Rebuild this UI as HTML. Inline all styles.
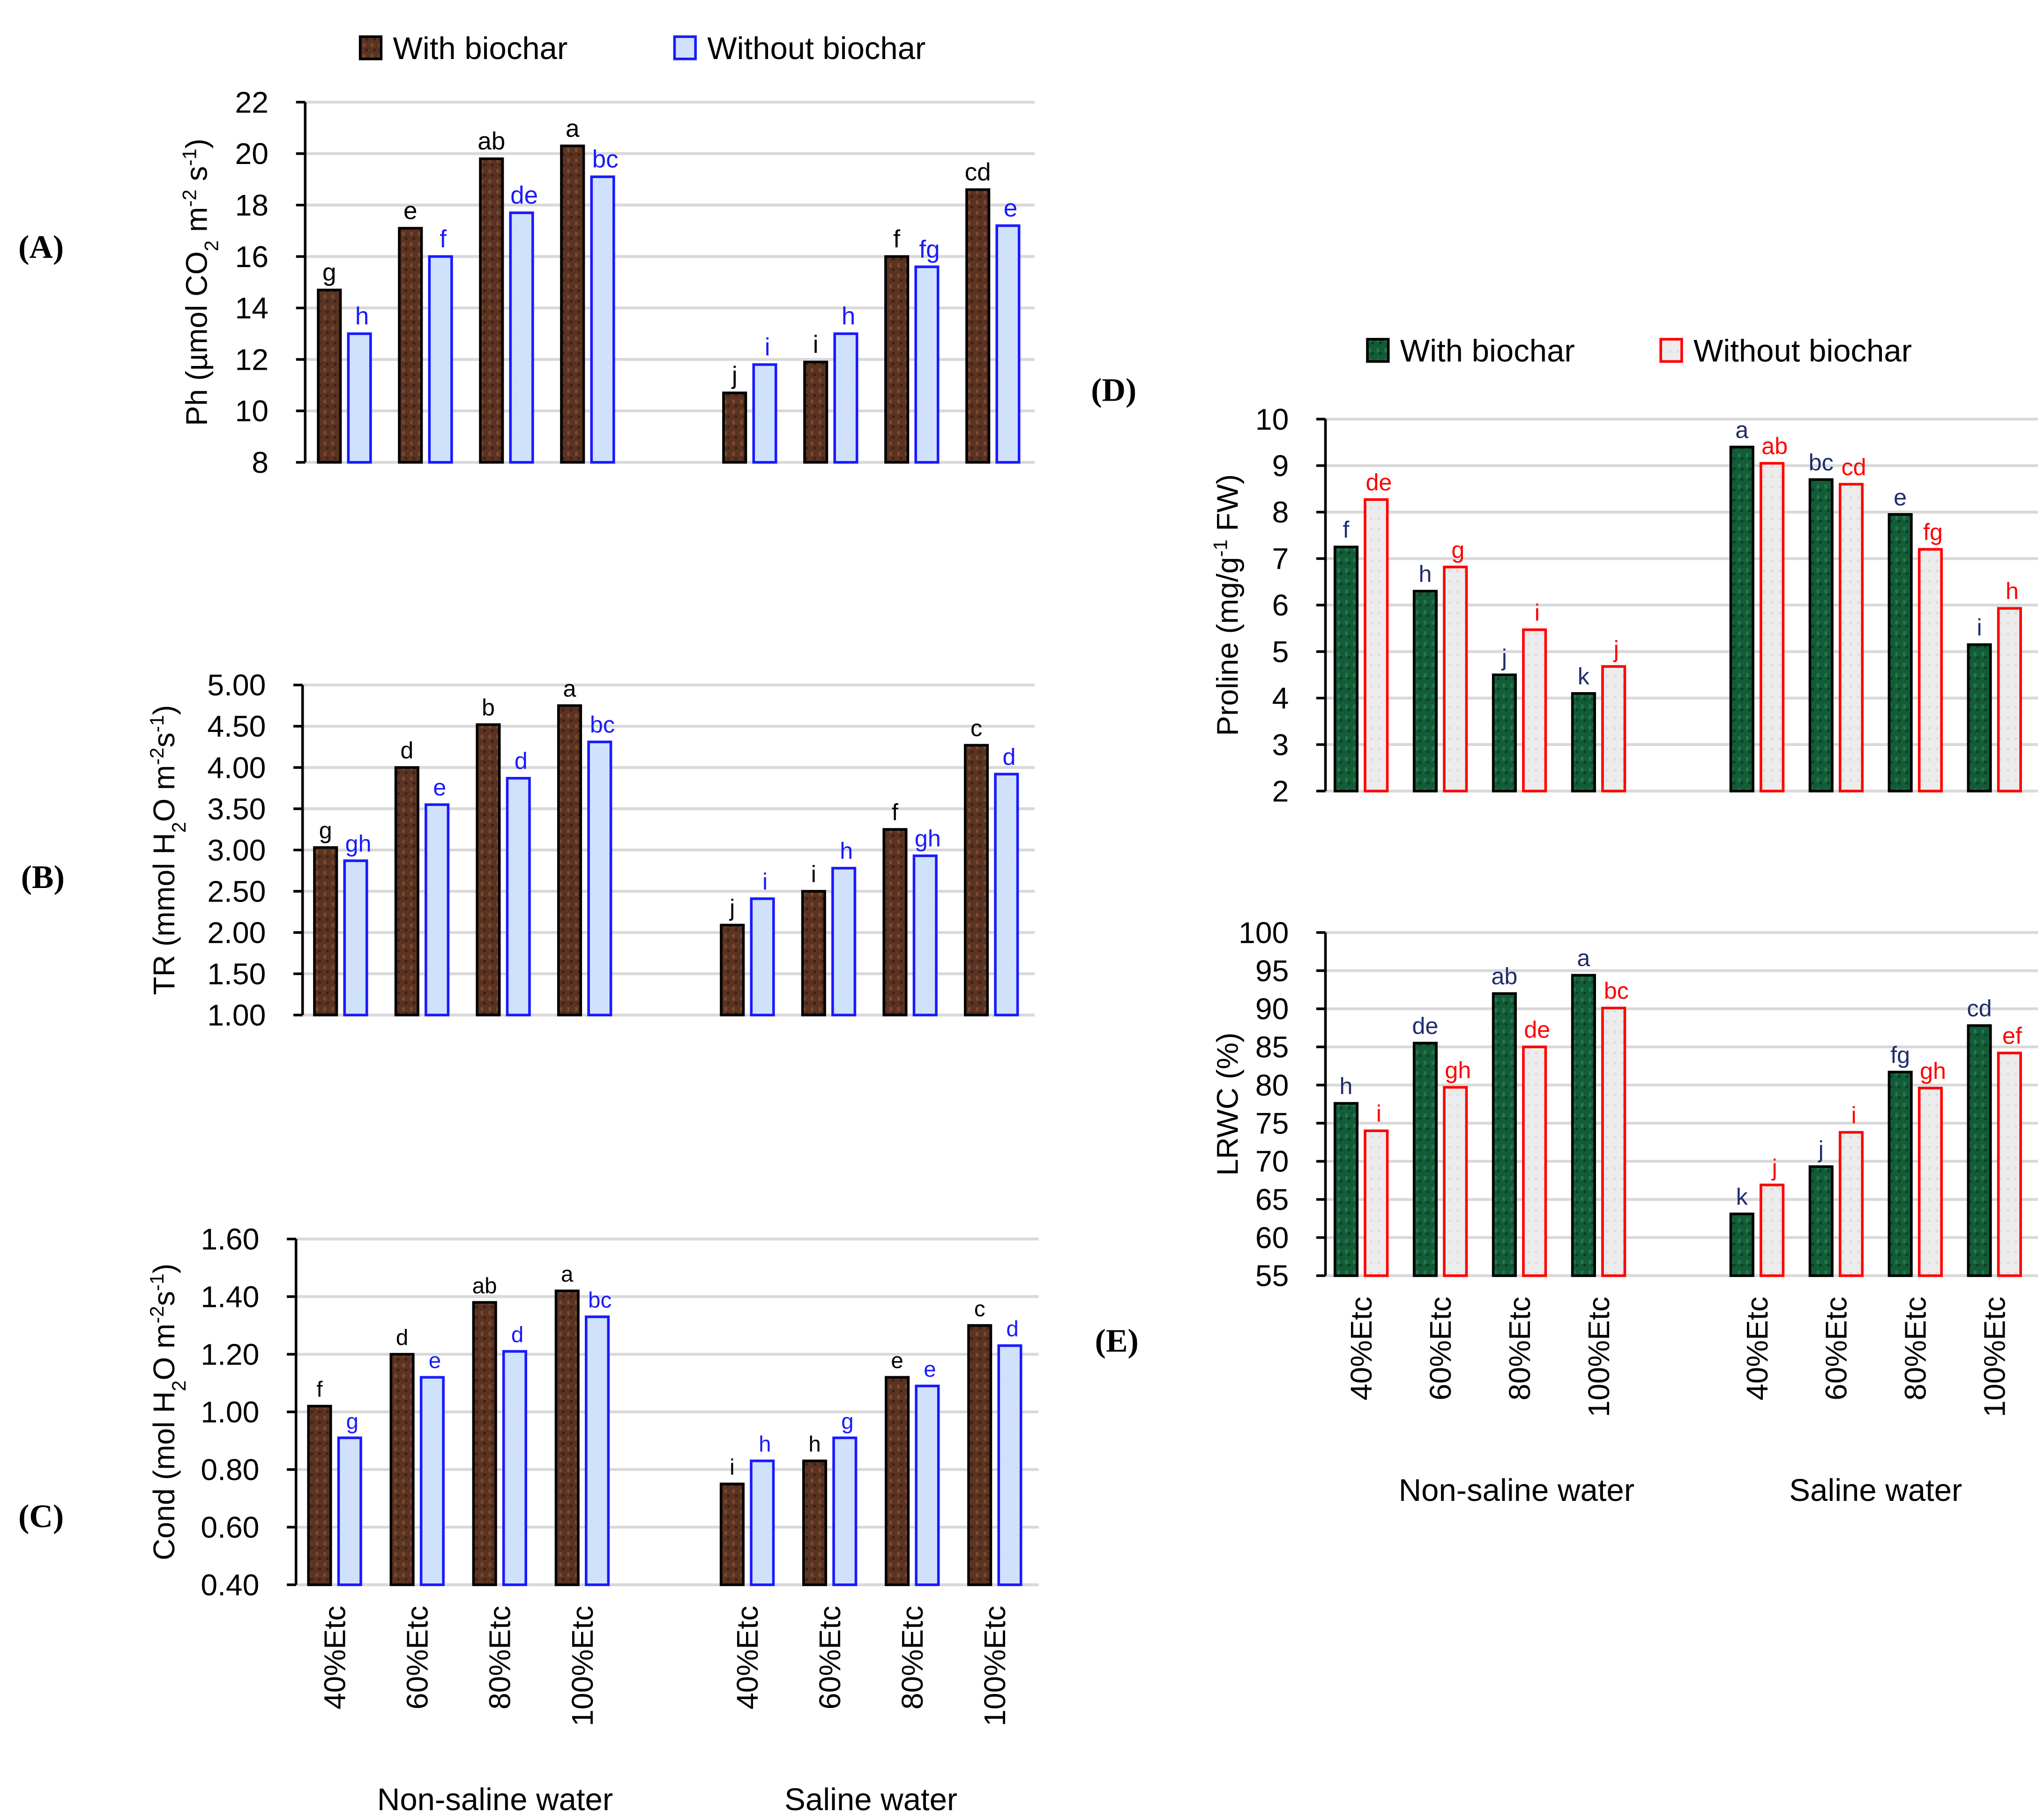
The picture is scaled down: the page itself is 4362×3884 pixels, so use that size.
<!DOCTYPE html>
<html><head><meta charset="utf-8">
<style>
html,body{margin:0;padding:0;background:#fff;}
svg{display:block;}
text{font-family:"Liberation Sans",sans-serif;}
.pl{font-family:"Liberation Serif",serif;font-weight:bold;font-size:25px;}
</style></head>
<body>
<svg id="fig" width="4362" height="3884" viewBox="0 0 1560.6 1389.6" xmlns="http://www.w3.org/2000/svg">
<defs>
<pattern id="brown" width="6" height="8" patternUnits="userSpaceOnUse"><rect width="6" height="8" fill="#5a3322"/><rect x="1" y="1" width="2" height="3" fill="#7a4a30"/><rect x="3" y="5" width="2" height="2" fill="#3e2114"/></pattern>
<pattern id="blue" width="6" height="8" patternUnits="userSpaceOnUse"><rect width="6" height="8" fill="#cfe2fb"/><rect x="2" y="3" width="2" height="2" fill="#dcd8fa"/></pattern>
<pattern id="green" width="6" height="8" patternUnits="userSpaceOnUse"><rect width="6" height="8" fill="#145c38"/><rect x="1" y="2" width="2" height="3" fill="#1f7a4c"/><rect x="3" y="5" width="2" height="2" fill="#0b3f24"/></pattern>
<pattern id="grey" width="6" height="8" patternUnits="userSpaceOnUse"><rect width="6" height="8" fill="#ececec"/><rect x="2" y="3" width="2" height="2" fill="#dedede"/></pattern>
</defs>
<g id="root"></g>
</svg>
<script>
// ---- data ----
const categories = ["40%Etc","60%Etc","80%Etc","100%Etc","40%Etc","60%Etc","80%Etc","100%Etc"];
const groupLabels = ["Non-saline water","Saline water"];
const aWith = [14.7,17.1,19.8,20.3,10.7,11.9,16.0,18.6];
const aWithout = [13.0,16.0,17.7,19.1,11.8,13.0,15.6,17.2];
const aLetWith = ["g","e","ab","a","j","i","f","cd"];
const aLetWithout = ["h","f","de","bc","i","h","fg","e"];
const aTicks = ["8","10","12","14","16","18","20","22"];
const bWith = [3.03,4.00,4.52,4.75,2.09,2.50,3.25,4.27];
const bWithout = [2.87,3.55,3.87,4.31,2.41,2.78,2.93,3.92];
const bLetWith = ["g","d","b","a","j","i","f","c"];
const bLetWithout = ["gh","e","d","bc","i","h","gh","d"];
const bTicks = ["1.00","1.50","2.00","2.50","3.00","3.50","4.00","4.50","5.00"];
const cWith = [1.02,1.20,1.38,1.42,0.75,0.83,1.12,1.30];
const cWithout = [0.91,1.12,1.21,1.33,0.83,0.91,1.09,1.23];
const cLetWith = ["f","d","ab","a","i","h","e","c"];
const cLetWithout = ["g","e","d","bc","h","g","e","d"];
const cTicks = ["0.40","0.60","0.80","1.00","1.20","1.40","1.60"];
const dWith = [7.25,6.3,4.5,4.1,9.4,8.7,7.95,5.15];
const dWithout = [8.27,6.82,5.47,4.68,9.05,8.6,7.2,5.93];
const dLetWith = ["f","h","j","k","a","bc","e","i"];
const dLetWithout = ["de","g","i","j","ab","cd","fg","h"];
const dTicks = ["2","3","4","5","6","7","8","9","10"];
const eWith = [77.6,85.5,92.0,94.4,63.1,69.3,81.7,87.8];
const eWithout = [74.0,79.7,85.0,90.1,66.9,73.8,79.6,84.2];
const eLetWith = ["h","de","ab","a","k","j","fg","cd"];
const eLetWithout = ["i","gh","de","bc","j","i","gh","ef"];
const eTicks = ["55","60","65","70","75","80","85","90","95","100"];

const NS="http://www.w3.org/2000/svg";
const root=document.getElementById('root');
function mk(tag,attrs,parent){const e=document.createElementNS(NS,tag);for(const k in attrs)e.setAttribute(k,attrs[k]);(parent||root).appendChild(e);return e;}

function panel(p){
  const g=mk('g',{});
  
  
  const vmin=parseFloat(p.ticks[0]), vmax=parseFloat(p.ticks[p.ticks.length-1]);
  const y=v=>p.y0+(v-vmin)/(vmax-vmin)*(p.y1-p.y0);
  const slot=(p.xr-p.x0)/9;
  const cx=i=>p.x0+p.off+slot*((i<4?i:i+1)+0.5);
  p.ticks.forEach(t=>{
    const v=parseFloat(t);
    const gl=mk('line',{x1:p.x0,x2:p.xr,y1:y(v),y2:y(v),stroke:'#d9d9d9','stroke-width':2.2},g);
    
    
    mk('line',{x1:p.x0-7,x2:p.x0,y1:y(v),y2:y(v),stroke:'#000','stroke-width':2},g);
    const tl=mk('text',{x:p.x0-28,y:y(v)+8,'text-anchor':'end','font-size':23},g);
    tl.textContent=t;
    
    
  });
  mk('line',{x1:p.x0,x2:p.x0,y1:p.y0,y2:p.y1,stroke:'#000','stroke-width':2},g);
  const bw=17;
  for(let i=0;i<8;i++){
    const c=cx(i);
    const v1=p.w[i], v2=p.wo[i];
    const b1=mk('rect',{x:c-bw-3,y:y(v1),width:bw,height:p.y0-y(v1),fill:'url(#'+p.f1+')',stroke:'#000','stroke-width':2},g);
    
    
    const b2=mk('rect',{x:c+3,y:y(v2),width:bw,height:p.y0-y(v2),fill:'url(#'+p.f2+')',stroke:p.s2,'stroke-width':2},g);
    
    
    const l1=mk('text',{x:c-bw/2-3,y:y(v1)-7,'text-anchor':'middle','font-size':p.lf,fill:p.c1},g);
    l1.textContent=p.lw[i];
    
    
    const l2=mk('text',{x:c+bw/2+5,y:y(v2)-7,'text-anchor':'middle','font-size':p.lf,fill:p.c2},g);
    l2.textContent=p.lwo[i];
    
    
    if(p.xlab){
      const xl=mk('text',{x:0,y:0,'text-anchor':'end','font-size':23,transform:`translate(${c+8},${p.y0+16}) rotate(-90)`},g);
      xl.textContent=categories[i];
      
      
    }
  }
  if(p.xlab){
    const gx=[(cx(0)+cx(3))/2+28,(cx(4)+cx(7))/2];
    groupLabels.forEach((t,k)=>{
      const gt=mk('text',{x:gx[k],y:p.gy,'text-anchor':'middle','font-size':24},g);
      gt.textContent=t;
      
      
    });
  }
  const yt=mk('text',{x:0,y:0,'text-anchor':'middle','font-size':23,transform:`translate(${p.tx},${(p.y0+p.y1)/2}) rotate(-90)`},g);
  yt.innerHTML=p.title;
  
  
  return g;
}

panel({name:'panel-a-photosynthesis',x0:233,xr:790,off:-1,y0:353,y1:78,ticks:aTicks,w:aWith,wo:aWithout,lw:aLetWith,lwo:aLetWithout,f1:'brown',f2:'blue',s2:'#1a1aff',c1:'#000',c2:'#1a1aff',lf:19,tx:158,
  title:'Ph (µmol CO<tspan baseline-shift="sub" font-size="15">2</tspan> m<tspan baseline-shift="super" font-size="15">-2</tspan> s<tspan baseline-shift="super" font-size="15">-1</tspan>)'});
panel({name:'panel-b-transpiration',x0:231,xr:790,off:-2,y0:775,y1:523,ticks:bTicks,w:bWith,wo:bWithout,lw:bLetWith,lwo:bLetWithout,f1:'brown',f2:'blue',s2:'#1a1aff',c1:'#000',c2:'#1a1aff',lf:18,tx:133,
  title:'TR (mmol H<tspan baseline-shift="sub" font-size="15">2</tspan>O m<tspan baseline-shift="super" font-size="15">-2</tspan>s<tspan baseline-shift="super" font-size="15">-1</tspan>)'});
panel({name:'panel-c-conductance',x0:226,xr:793,off:-2,y0:1210,y1:946,ticks:cTicks,w:cWith,wo:cWithout,lw:cLetWith,lwo:cLetWithout,f1:'brown',f2:'blue',s2:'#1a1aff',c1:'#000',c2:'#1a1aff',lf:17,tx:133,xlab:true,gy:1382,
  title:'Cond (mol H<tspan baseline-shift="sub" font-size="15">2</tspan>O m<tspan baseline-shift="super" font-size="15">-2</tspan>s<tspan baseline-shift="super" font-size="15">-1</tspan>)'});
panel({name:'panel-d-proline',x0:1012,xr:1556,off:-3,y0:604,y1:320,ticks:dTicks,w:dWith,wo:dWithout,lw:dLetWith,lwo:dLetWithout,f1:'green',f2:'grey',s2:'#ff0000',c1:'#1f2d6b',c2:'#ff0000',lf:18,tx:945,
  title:'Proline (mg/g<tspan baseline-shift="super" font-size="15">-1</tspan> FW)'});
panel({name:'panel-e-lrwc',x0:1012,xr:1556,off:-3,y0:974,y1:712,ticks:eTicks,w:eWith,wo:eWithout,lw:eLetWith,lwo:eLetWithout,f1:'green',f2:'grey',s2:'#ff0000',c1:'#1f2d6b',c2:'#ff0000',lf:18,tx:945,xlab:true,gy:1146,
  title:'LRWC (%)'});

function legend(x,y,f1,s1,t1,x2,f2,s2,t2,nm){
  const g=mk('g',{});
  
  
  mk('rect',{x:x,y:y-17,width:16,height:17,fill:'url(#'+f1+')',stroke:s1,'stroke-width':2},g);
  const a=mk('text',{x:x+25,y:y,'font-size':24},g);a.textContent=t1;
  
  
  mk('rect',{x:x2,y:y-17,width:16,height:17,fill:'url(#'+f2+')',stroke:s2,'stroke-width':2},g);
  const b=mk('text',{x:x2+25,y:y,'font-size':24},g);b.textContent=t2;
  
  
}
legend(275,45,'brown','#000','With biochar',515,'blue','#1a1aff','Without biochar','legend-top');
legend(1044,276,'green','#000','With biochar',1268,'grey','#ff0000','Without biochar','legend-right');

[['(A)',14,197],['(B)',16,678],['(C)',14,1166],['(D)',833,306],['(E)',836,1032]].forEach(([t,x,y])=>{
  const e=mk('text',{x:x,y:y,class:'pl'});e.textContent=t;
  
  
});
</script>
</body></html>
